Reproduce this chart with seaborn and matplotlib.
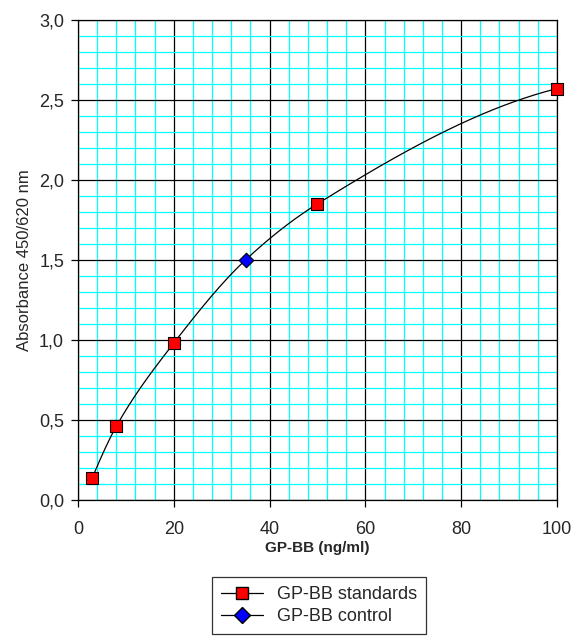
import numpy as np
import pandas as pd
import matplotlib
matplotlib.use("Agg")
import matplotlib.pyplot as plt
from matplotlib.lines import Line2D
from matplotlib.ticker import MultipleLocator, FuncFormatter
import seaborn as sns

# standards and control
std_conc = [3, 8, 20, 50, 100]
std_abs = [0.14, 0.46, 0.98, 1.85, 2.57]
ctrl_conc = [35]
ctrl_abs = [1.50]


def pchip(x, y, xs):
    # monotone cubic through the points (smoothed line like the original)
    x = np.asarray(x, float)
    y = np.asarray(y, float)
    h = np.diff(x)
    d = np.diff(y) / h
    m = np.zeros_like(y)
    for k in range(1, len(x) - 1):
        if d[k - 1] * d[k] > 0:
            w1 = 2 * h[k] + h[k - 1]
            w2 = h[k] + 2 * h[k - 1]
            m[k] = (w1 + w2) / (w1 / d[k - 1] + w2 / d[k])
    m[0] = ((2 * h[0] + h[1]) * d[0] - h[0] * d[1]) / (h[0] + h[1])
    m[-1] = ((2 * h[-1] + h[-2]) * d[-1] - h[-1] * d[-2]) / (h[-1] + h[-2])
    idx = np.clip(np.searchsorted(x, xs) - 1, 0, len(x) - 2)
    t = (xs - x[idx]) / h[idx]
    h00 = 2 * t**3 - 3 * t**2 + 1
    h10 = t**3 - 2 * t**2 + t
    h01 = -2 * t**3 + 3 * t**2
    h11 = t**3 - t**2
    return h00 * y[idx] + h10 * h[idx] * m[idx] + h01 * y[idx + 1] + h11 * h[idx] * m[idx + 1]


sns.set_style("white")
plt.rcParams['font.family'] = ['Liberation Sans', 'DejaVu Sans']

fig = plt.figure(figsize=(5.73, 6.37), dpi=100)
ax = fig.add_axes([0.136, 0.215, 0.836, 0.754])

knots_x = sorted(std_conc + ctrl_conc)
knots_y = [dict(zip(std_conc + ctrl_conc, std_abs + ctrl_abs))[k] for k in knots_x]
xs = np.linspace(min(std_conc), max(std_conc), 400)
curve = pd.DataFrame({"x": xs, "y": pchip(knots_x, knots_y, xs)})
sns.lineplot(data=curve, x="x", y="y", color="black", linewidth=0.9, ax=ax, zorder=3)

sns.scatterplot(x=std_conc, y=std_abs, marker="s", s=70, color="red",
                edgecolor="black", linewidth=0.8, ax=ax, zorder=4, clip_on=False)
sns.scatterplot(x=ctrl_conc, y=ctrl_abs, marker="D", s=55, color="blue",
                edgecolor="black", linewidth=0.8, ax=ax, zorder=4, clip_on=False)

ax.set_xlim(0, 100)
ax.set_ylim(0, 3.0)
ax.xaxis.set_major_locator(MultipleLocator(20))
ax.xaxis.set_minor_locator(MultipleLocator(4))
ax.yaxis.set_major_locator(MultipleLocator(0.5))
ax.yaxis.set_minor_locator(MultipleLocator(0.1))
ax.yaxis.set_major_formatter(FuncFormatter(lambda v, p: f"{v:.1f}".replace(".", ",")))

ax.grid(which="minor", color="cyan", linewidth=0.9, zorder=0)
ax.grid(which="major", color="black", linewidth=0.9, zorder=1)
ax.set_axisbelow(True)
for s in ax.spines.values():
    s.set_color("black")
    s.set_linewidth(0.9)

ax.tick_params(which="major", direction="out", length=5, width=0.9, labelsize=13,
               color="black", bottom=True, left=True, pad=5)
ax.tick_params(axis="x", which="major", pad=10)
ax.tick_params(which="minor", length=0)

ax.set_xlabel("GP-BB (ng/ml)", fontsize=11, fontweight="bold", labelpad=2)
ax.set_ylabel("Absorbance 450/620 nm", fontsize=12, labelpad=5)

handles = [
    Line2D([], [], color="black", linewidth=0.9, marker="s", markersize=8,
           markerfacecolor="red", markeredgecolor="black"),
    Line2D([], [], color="black", linewidth=0.9, marker="D", markersize=8,
           markerfacecolor="blue", markeredgecolor="black"),
]
leg = fig.legend(handles, ["GP-BB standards", "GP-BB control"], loc="upper left",
                 bbox_to_anchor=(212 / 573, 1 - 577 / 637), frameon=True, fancybox=False,
                 edgecolor="black", fontsize=13, handlelength=2.3, handletextpad=0.8,
                 borderpad=0.5, labelspacing=0.3, borderaxespad=0)
leg.get_frame().set_linewidth(0.9)

fig.savefig("out.png", dpi=100)
